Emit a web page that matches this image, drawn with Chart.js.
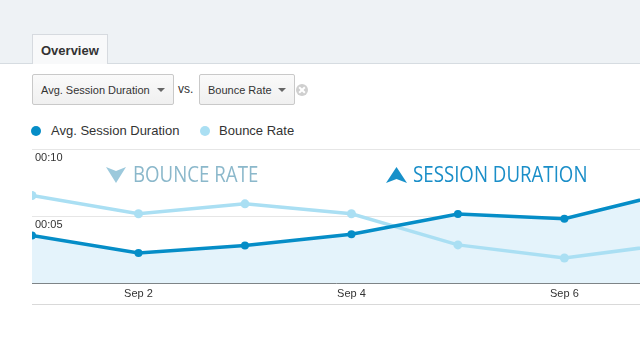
<!DOCTYPE html>
<html>
<head>
<meta charset="utf-8">
<script src="https://cdn.jsdelivr.net/npm/chart.js@4.4.1/dist/chart.umd.min.js"></script>
<style>
  html, body { margin: 0; padding: 0; }
  body { width: 640px; height: 360px; overflow: hidden; position: relative; background: #fff;
         font-family: "Liberation Sans", Arial, sans-serif; color: #333; }
  .band { position: absolute; left: 0; top: 0; width: 640px; height: 63px; background: #eef2f5;
          border-bottom: 1px solid #d6dce1; }
  .tab { position: absolute; left: 32px; top: 34px; width: 76px; height: 30px; background: #f8f9fa;
         border: 1px solid #d6dadf; border-bottom: none; box-sizing: border-box;
         font-size: 13px; font-weight: bold; padding: 8px 0 0 8px; }
  .dd { position: absolute; top: 74px; height: 31px; box-sizing: border-box; border: 1px solid #c9c9c9;
        border-radius: 2px; background: linear-gradient(#fafafa, #f0f0f0); font-size: 11px;
        padding: 9px 0 0 8px; }
  .dd .caret { position: absolute; right: 8px; top: 13px; width: 0; height: 0;
               border-left: 4px solid transparent; border-right: 4px solid transparent; border-top: 4px solid #666; }
  .vs { position: absolute; left: 178px; top: 82px; font-size: 12px; }
  .close { position: absolute; left: 296px; top: 84px; width: 12px; height: 12px; border-radius: 50%; background: #cfcfcf; }
  .close:before, .close:after { content: ""; position: absolute; left: 5px; top: 2px; width: 2px; height: 8px; background: #fff; }
  .close:before { transform: rotate(45deg); }
  .close:after { transform: rotate(-45deg); }
  .legend { position: absolute; top: 123px; font-size: 13px; }
  .legend i { position: absolute; top: 3px; width: 10px; height: 10px; border-radius: 50%; }
  .legend span { position: absolute; white-space: nowrap; }
  .note { position: absolute; top: 160px; font-family: "Open Sans", sans-serif; font-size: 21px;
          white-space: nowrap; transform-origin: 0 0; transform: scaleX(0.89); }
  #wrap { position: absolute; left: 26px; top: 140px; width: 614px; height: 165px; }
  .bottom { position: absolute; left: 32px; top: 304px; width: 608px; height: 1px; background: #d9d9d9; }
</style>
</head>
<body>
<div class="band"></div>
<div class="tab">Overview</div>
<div class="dd" style="left:32px;width:142px;">Avg. Session Duration<div class="caret"></div></div>
<div class="vs">vs.</div>
<div class="dd" style="left:199px;width:96px;">Bounce Rate<div class="caret"></div></div>
<div class="close"></div>

<div class="legend">
  <i style="left:31px;background:#058dc7;"></i><span style="left:51px;">Avg. Session Duration</span>
  <i style="left:200px;background:#aadff3;"></i><span style="left:219px;">Bounce Rate</span>
</div>

<div id="wrap"><canvas id="chartCanvas"></canvas></div>
<div class="bottom"></div>

<svg style="position:absolute;left:106px;top:167px;" width="20" height="16" viewBox="0 0 20 16">
  <polygon points="0,0 10,4 20,0 10,16" fill="#9cc9dc"/>
</svg>
<div class="note" style="left:133px;color:#8bb8cb;">BOUNCE RATE</div>
<svg style="position:absolute;left:386px;top:167px;" width="21" height="16" viewBox="0 0 21 16">
  <polygon points="10.5,0 21,16 10.5,12 0,16" fill="#1790c9"/>
</svg>
<div class="note" style="left:413px;color:#1a8ec8;">SESSION DURATION</div>

<script>
// one point per day, Sep 7 falls past the right edge
const days = ['Sep 1', 'Sep 2', 'Sep 3', 'Sep 4', 'Sep 5', 'Sep 6', 'Sep 7'];
const sessionDuration = [3.6, 2.3, 2.85, 3.7, 5.2, 4.85, 6.8]; // seconds
const bounceRate = [65.8, 52.2, 59.6, 52.2, 29.0, 19.2, 29.6]; // percent
const tickDays = [1, 3, 5];
const yTicks = [0, 5, 10];

function fmtTime(sec) {
    const s = String(sec).padStart(2, '0');
    return '00:' + s;
}

document.addEventListener('DOMContentLoaded', () => {
    const ctx = document.getElementById('chartCanvas').getContext('2d');

    new Chart(ctx, {
        type: 'line',
        data: {
            datasets: [{
                label: 'Avg. Session Duration',
                data: sessionDuration.map((v, i) => ({ x: i, y: v })),
                borderColor: '#058dc7',
                backgroundColor: '#e4f3fb',
                pointBackgroundColor: '#058dc7',
                pointBorderWidth: 0,
                pointRadius: 4,
                borderWidth: 3.5,
                fill: 'origin',
                yAxisID: 'y'
            }, {
                label: 'Bounce Rate',
                data: bounceRate.map((v, i) => ({ x: i, y: v })),
                borderColor: '#aadff3',
                pointBackgroundColor: '#aadff3',
                pointBorderWidth: 0,
                pointRadius: 4.5,
                borderWidth: 3.5,
                fill: false,
                yAxisID: 'y1'
            }]
        },
        options: {
            responsive: true,
            maintainAspectRatio: false,
            animation: false,
            layout: { autoPadding: false, padding: { top: 8, right: 0, bottom: 0, left: 0 } },
            scales: {
                x: {
                    type: 'linear',
                    min: 0,
                    max: 5.71,
                    afterBuildTicks: axis => { axis.ticks = tickDays.map(v => ({ value: v })); },
                    grid: { display: false, drawTicks: false },
                    border: { display: true, color: '#333', width: 1 },
                    ticks: {
                        padding: 4,
                        color: '#333',
                        font: { family: 'Liberation Sans', size: 11 },
                        callback: v => days[v]
                    }
                },
                y: {
                    min: 0,
                    max: 10,
                    afterBuildTicks: axis => { axis.ticks = yTicks.map(v => ({ value: v })); },
                    grid: { color: '#e6e6e6', drawTicks: false },
                    border: { display: false },
                    ticks: {
                        mirror: true,
                        padding: 3,
                        labelOffset: 8,
                        color: '#333',
                        font: { family: 'Liberation Sans', size: 11 },
                        callback: v => v === 0 ? '' : fmtTime(v)
                    }
                },
                y1: {
                    display: false,
                    min: 0,
                    max: 100
                }
            },
            plugins: {
                legend: { display: false },
                tooltip: { enabled: false },
                filler: { drawTime: 'beforeDatasetsDraw' }
            }
        }
    });
});
</script>
</body>
</html>
